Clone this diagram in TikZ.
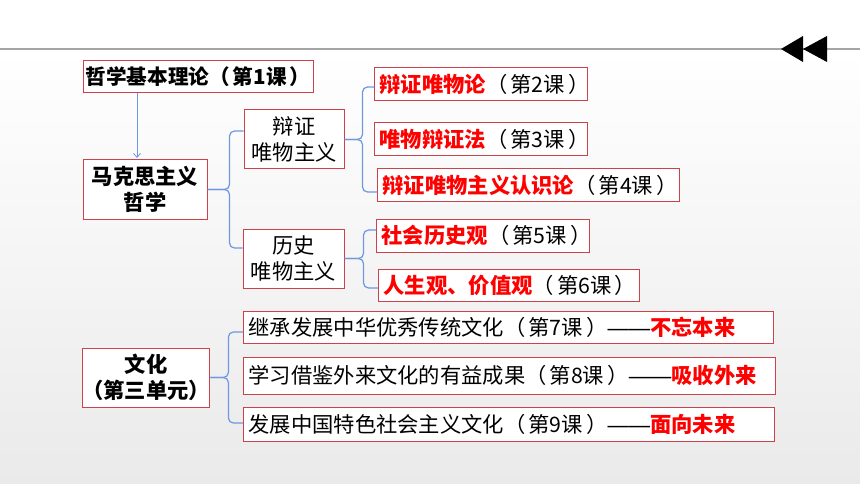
\documentclass[tikz,border=0pt]{standalone}
\usepackage{fontspec}
\setmainfont{Noto Sans CJK SC}[Kerning=Off]
\newfontfamily\dashfont{Liberation Sans}
\usepackage{tikz}
\usetikzlibrary{arrows.meta}

\definecolor{boxred}{RGB}{205,65,75}
\definecolor{keyred}{RGB}{255,0,0}
\definecolor{braceblue}{RGB}{110,150,225}
\definecolor{rulegray}{RGB}{165,165,165}
\definecolor{bggray}{RGB}{234,234,234}
\newcommand{\redb}[1]{\textcolor{keyred}{\textbf{#1}}}
\newcommand{\lessonno}[1]{（\kern0.15em#1\kern0.15em）}
\newcommand{\longdash}{{\dashfont ——}}

\begin{document}
\begin{tikzpicture}[x=1pt,y=-1pt,
    box/.style={draw=boxred,line width=1pt,fill=white,inner sep=0pt,
      font=\fontsize{21.3}{25.5}\selectfont},
    unit/.style={box,align=center,minimum height=#1},
    lesson/.style={box,anchor=west,align=left,inner xsep=5pt,text width=#1},
    brace/.style={draw=braceblue,line width=1.2pt,rounded corners=5pt},
    arr/.style={draw=braceblue,line width=0.8pt,-{Straight Barb[length=4pt,width=7pt]},shorten >=1.5pt}]
  \useasboundingbox (0,0) rectangle (860,484);
  \fill[white] (0,0) rectangle (860,49);
  \shade[top color=white,bottom color=bggray] (0,49) rectangle (860,484);
  \draw[rulegray,line width=1.5pt] (0,49) -- (860,49);
  \fill (781,49) -- (803,36) -- (803,62) -- cycle;
  \fill (803,49) -- (827,36) -- (827,62) -- cycle;

  \node[unit=32pt,minimum width=230pt,font=\fontsize{20.6}{25}\selectfont] (Basic) at (198,77) {\textbf{哲学基本理论\lessonno{第1课}}};
  \node[unit=59pt,minimum width=124pt] (Marx)    at (145,189.5) {\textbf{马克思主义}\\\textbf{哲学}};
  \node[unit=59pt,minimum width=100pt] (DiaMat)  at (294,139.5) {辩证\\唯物主义};
  \node[unit=59pt,minimum width=101pt] (HisMat)  at (293.5,258.5) {历史\\唯物主义};
  \node[unit=59pt,minimum width=124pt] (Culture) at (146,377.5) {\textbf{文化}\\\textbf{（第三单元）}};

  \node[lesson=203pt,minimum height=33pt] (L2) at (374,84.5)  {\redb{辩证唯物论}\lessonno{第2课}};
  \node[lesson=203pt,minimum height=33pt] (L3) at (374,139.5) {\redb{唯物辩证法}\lessonno{第3课}};
  \node[lesson=292pt,minimum height=33pt] (L4) at (377,185.5) {\redb{辩证唯物主义认识论}\lessonno{第4课}};
  \node[lesson=203pt,minimum height=33pt] (L5) at (376,235.5) {\redb{社会历史观}\lessonno{第5课}};
  \node[lesson=251pt,minimum height=32pt] (L6) at (378,285)   {\redb{人生观、价值观}\lessonno{第6课}};
  \node[lesson=520pt,minimum height=32pt] (L7) at (243,327)   {继承发展中华优秀传统文化\lessonno{第7课}\longdash\redb{不忘本来}};
  \node[lesson=522pt,minimum height=37pt] (L8) at (243,375.5) {学习借鉴外来文化的有益成果\lessonno{第8课}\longdash\redb{吸收外来}};
  \node[lesson=521pt,minimum height=34pt] (L9) at (243,424)   {发展中国特色社会主义文化\lessonno{第9课}\longdash\redb{面向未来}};

  \draw[arr] ([xshift=-8pt]Marx.north |- Basic.south) -- ([xshift=-8pt]Marx.north);

  \draw[brace] (Marx.east) -- ++(22,0) |- ([yshift=8.5pt]DiaMat.west);
  \draw[brace] (Marx.east) -- ++(22,0) |- ([yshift=10.5pt]HisMat.west);
  \draw[brace] (DiaMat.east) -- ++(18,0) |- ([yshift=-2.5pt]L2.west);
  \draw[brace] (DiaMat.east) -- ++(18,0) |- ([yshift=-6.5pt]L4.west);
  \draw[brace] (HisMat.east) -- ++(19,0) |- ([yshift=5.5pt]L5.west);
  \draw[brace] (HisMat.east) -- ++(19,0) |- ([yshift=-3pt]L6.west);
  \draw[brace] (Culture.east) -- ++(18,0) |- ([yshift=-5pt]L7.west);
  \draw[brace] (Culture.east) -- ++(18,0) |- ([yshift=1pt]L9.west);
\end{tikzpicture}
\end{document}
